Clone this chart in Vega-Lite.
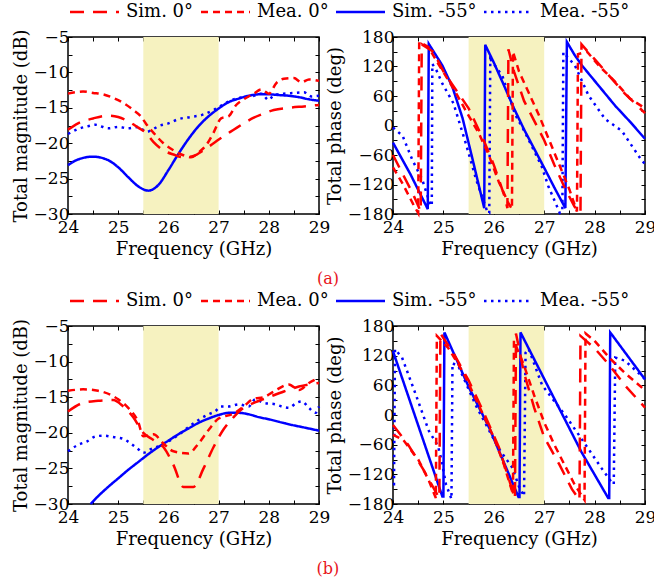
{
"$schema": "https://vega.github.io/schema/vega-lite/v6.json",
"background": "white",
"padding": {"left": 11, "right": 0, "top": 3, "bottom": 2},
"config": {
 "font": "DejaVu Serif",
 "view": {"stroke": "#000", "strokeWidth": 1.5},
 "axis": {"domain": false, "grid": false, "ticks": true, "tickColor": "#000", "tickSize": -4, "tickWidth": 1, "labelFontSize": 17, "labelColor": "#000", "labelFont": "DejaVu Serif", "titleFont": "DejaVu Serif", "titleFontSize": 18, "titleFontWeight": "normal", "titleColor": "#000", "labelPadding": 3, "titlePadding": 3, "labelFlush": false, "labelOverlap": false},
 "legend": {"orient": "top", "direction": "horizontal", "title": null, "symbolType": "M-1,0H6", "symbolSize": 196, "symbolStrokeWidth": 2.5, "labelFontSize": 18, "labelFont": "DejaVu Serif", "labelColor": "#000", "columnPadding": 2, "labelOffset": 40, "offset": 6, "padding": 0},
 "title": {"font": "DejaVu Serif"},
 "line": {"strokeWidth": 2.5, "clip": true}
},
"datasets": {
"ma": [
{"f":24,"v":-23.1,"s":"Sim. -55°"},{"f":24.2,"v":-22.3,"s":"Sim. -55°"},{"f":24.5,"v":-21.9,"s":"Sim. -55°"},{"f":24.8,"v":-22.4,"s":"Sim. -55°"},{"f":25,"v":-23.4,"s":"Sim. -55°"},{"f":25.2,"v":-24.8,"s":"Sim. -55°"},{"f":25.4,"v":-26.1,"s":"Sim. -55°"},{"f":25.6,"v":-26.7,"s":"Sim. -55°"},{"f":25.8,"v":-25.9,"s":"Sim. -55°"},{"f":26,"v":-23.8,"s":"Sim. -55°"},{"f":26.2,"v":-21.5,"s":"Sim. -55°"},{"f":26.4,"v":-19.4,"s":"Sim. -55°"},{"f":26.6,"v":-17.6,"s":"Sim. -55°"},{"f":26.8,"v":-16.2,"s":"Sim. -55°"},{"f":27,"v":-15.1,"s":"Sim. -55°"},{"f":27.2,"v":-14.2,"s":"Sim. -55°"},{"f":27.4,"v":-13.7,"s":"Sim. -55°"},{"f":27.6,"v":-13.3,"s":"Sim. -55°"},{"f":27.8,"v":-13.1,"s":"Sim. -55°"},{"f":28,"v":-13.1,"s":"Sim. -55°"},{"f":28.2,"v":-13.2,"s":"Sim. -55°"},{"f":28.4,"v":-13.3,"s":"Sim. -55°"},{"f":28.6,"v":-13.5,"s":"Sim. -55°"},{"f":28.8,"v":-13.8,"s":"Sim. -55°"},{"f":29,"v":-14,"s":"Sim. -55°"},
{"f":24,"v":-18.7,"s":"Mea. -55°"},{"f":24.2,"v":-18.0,"s":"Mea. -55°"},{"f":24.4,"v":-17.6,"s":"Mea. -55°"},{"f":24.55,"v":-17.4,"s":"Mea. -55°"},{"f":24.8,"v":-17.9,"s":"Mea. -55°"},{"f":25,"v":-17.7,"s":"Mea. -55°"},{"f":25.2,"v":-17.9,"s":"Mea. -55°"},{"f":25.4,"v":-17.7,"s":"Mea. -55°"},{"f":25.57,"v":-18.4,"s":"Mea. -55°"},{"f":25.65,"v":-18.2,"s":"Mea. -55°"},{"f":25.8,"v":-17.6,"s":"Mea. -55°"},{"f":26,"v":-17.2,"s":"Mea. -55°"},{"f":26.2,"v":-16.6,"s":"Mea. -55°"},{"f":26.45,"v":-16.3,"s":"Mea. -55°"},{"f":26.67,"v":-16.0,"s":"Mea. -55°"},{"f":26.9,"v":-15.3,"s":"Mea. -55°"},{"f":27.1,"v":-14.5,"s":"Mea. -55°"},{"f":27.3,"v":-13.8,"s":"Mea. -55°"},{"f":27.5,"v":-13.5,"s":"Mea. -55°"},{"f":27.7,"v":-13.3,"s":"Mea. -55°"},{"f":27.85,"v":-13.0,"s":"Mea. -55°"},{"f":28,"v":-13.9,"s":"Mea. -55°"},{"f":28.1,"v":-13.2,"s":"Mea. -55°"},{"f":28.3,"v":-13.0,"s":"Mea. -55°"},{"f":28.5,"v":-12.9,"s":"Mea. -55°"},{"f":28.7,"v":-12.8,"s":"Mea. -55°"},{"f":28.85,"v":-13.4,"s":"Mea. -55°"},{"f":29,"v":-13.3,"s":"Mea. -55°"},
{"f":24,"v":-18.1,"s":"Sim. 0°"},{"f":24.2,"v":-17.2,"s":"Sim. 0°"},{"f":24.5,"v":-16.5,"s":"Sim. 0°"},{"f":24.8,"v":-16.1,"s":"Sim. 0°"},{"f":25,"v":-16.3,"s":"Sim. 0°"},{"f":25.2,"v":-16.9,"s":"Sim. 0°"},{"f":25.4,"v":-17.8,"s":"Sim. 0°"},{"f":25.55,"v":-18.5,"s":"Sim. 0°"},{"f":25.7,"v":-19.8,"s":"Sim. 0°"},{"f":25.9,"v":-21.0,"s":"Sim. 0°"},{"f":26.1,"v":-21.6,"s":"Sim. 0°"},{"f":26.3,"v":-22.0,"s":"Sim. 0°"},{"f":26.5,"v":-21.8,"s":"Sim. 0°"},{"f":26.7,"v":-21.0,"s":"Sim. 0°"},{"f":26.9,"v":-20.0,"s":"Sim. 0°"},{"f":27.1,"v":-19.0,"s":"Sim. 0°"},{"f":27.3,"v":-18.1,"s":"Sim. 0°"},{"f":27.5,"v":-17.2,"s":"Sim. 0°"},{"f":27.7,"v":-16.4,"s":"Sim. 0°"},{"f":27.9,"v":-15.8,"s":"Sim. 0°"},{"f":28.1,"v":-15.3,"s":"Sim. 0°"},{"f":28.4,"v":-15.0,"s":"Sim. 0°"},{"f":28.7,"v":-14.8,"s":"Sim. 0°"},{"f":29,"v":-14.6,"s":"Sim. 0°"},
{"f":24,"v":-13.0,"s":"Mea. 0°"},{"f":24.15,"v":-12.8,"s":"Mea. 0°"},{"f":24.3,"v":-12.7,"s":"Mea. 0°"},{"f":24.5,"v":-12.9,"s":"Mea. 0°"},{"f":24.7,"v":-13.1,"s":"Mea. 0°"},{"f":24.9,"v":-13.6,"s":"Mea. 0°"},{"f":25.1,"v":-14.3,"s":"Mea. 0°"},{"f":25.3,"v":-15.3,"s":"Mea. 0°"},{"f":25.45,"v":-16.2,"s":"Mea. 0°"},{"f":25.55,"v":-17.2,"s":"Mea. 0°"},{"f":25.7,"v":-18.5,"s":"Mea. 0°"},{"f":25.9,"v":-20.0,"s":"Mea. 0°"},{"f":26.1,"v":-21.0,"s":"Mea. 0°"},{"f":26.3,"v":-21.7,"s":"Mea. 0°"},{"f":26.45,"v":-22.0,"s":"Mea. 0°"},{"f":26.6,"v":-21.3,"s":"Mea. 0°"},{"f":26.75,"v":-20.3,"s":"Mea. 0°"},{"f":26.9,"v":-18.5,"s":"Mea. 0°"},{"f":27.05,"v":-16.5,"s":"Mea. 0°"},{"f":27.2,"v":-16.2,"s":"Mea. 0°"},{"f":27.35,"v":-14.6,"s":"Mea. 0°"},{"f":27.5,"v":-13.8,"s":"Mea. 0°"},{"f":27.7,"v":-13.0,"s":"Mea. 0°"},{"f":27.85,"v":-12.4,"s":"Mea. 0°"},{"f":28,"v":-13.0,"s":"Mea. 0°"},{"f":28.15,"v":-11.5,"s":"Mea. 0°"},{"f":28.3,"v":-10.9,"s":"Mea. 0°"},{"f":28.5,"v":-10.8,"s":"Mea. 0°"},{"f":28.65,"v":-11.4,"s":"Mea. 0°"},{"f":28.8,"v":-11.0,"s":"Mea. 0°"},{"f":29,"v":-11.2,"s":"Mea. 0°"}
],
"pa": [
{"f":24,"v":-35,"s":"Sim. -55°"},{"f":24.35,"v":-100,"s":"Sim. -55°"},{"f":24.69,"v":-170,"s":"Sim. -55°"},{"f":24.71,"v":166,"s":"Sim. -55°"},{"f":24.98,"v":122,"s":"Sim. -55°"},{"f":25.18,"v":78,"s":"Sim. -55°"},{"f":25.38,"v":15,"s":"Sim. -55°"},{"f":25.57,"v":-65,"s":"Sim. -55°"},{"f":25.81,"v":-168,"s":"Sim. -55°"},{"f":25.83,"v":164,"s":"Sim. -55°"},{"f":26,"v":128,"s":"Sim. -55°"},{"f":26.2,"v":82,"s":"Sim. -55°"},{"f":26.4,"v":35,"s":"Sim. -55°"},{"f":26.6,"v":-8,"s":"Sim. -55°"},{"f":26.8,"v":-47,"s":"Sim. -55°"},{"f":27,"v":-86,"s":"Sim. -55°"},{"f":27.2,"v":-126,"s":"Sim. -55°"},{"f":27.42,"v":-168,"s":"Sim. -55°"},{"f":27.45,"v":170,"s":"Sim. -55°"},{"f":27.6,"v":144,"s":"Sim. -55°"},{"f":27.75,"v":122,"s":"Sim. -55°"},{"f":28.08,"v":81,"s":"Sim. -55°"},{"f":28.41,"v":40,"s":"Sim. -55°"},{"f":28.7,"v":8,"s":"Sim. -55°"},{"f":29,"v":-27,"s":"Sim. -55°"},
{"f":24,"v":-4,"s":"Mea. -55°"},{"f":24.19,"v":-21,"s":"Mea. -55°"},{"f":24.38,"v":-69,"s":"Mea. -55°"},{"f":24.58,"v":-110,"s":"Mea. -55°"},{"f":24.75,"v":-164,"s":"Mea. -55°"},{"f":24.77,"v":-160,"s":"Mea. -55°"},{"f":24.78,"v":125,"s":"Mea. -55°"},{"f":24.85,"v":115,"s":"Mea. -55°"},{"f":24.98,"v":85,"s":"Mea. -55°"},{"f":25.2,"v":45,"s":"Mea. -55°"},{"f":25.44,"v":-35,"s":"Mea. -55°"},{"f":25.65,"v":-110,"s":"Mea. -55°"},{"f":25.88,"v":-178,"s":"Mea. -55°"},{"f":25.91,"v":-178,"s":"Mea. -55°"},{"f":25.93,"v":135,"s":"Mea. -55°"},{"f":26.17,"v":101,"s":"Mea. -55°"},{"f":26.42,"v":23,"s":"Mea. -55°"},{"f":26.62,"v":-14,"s":"Mea. -55°"},{"f":26.95,"v":-83,"s":"Mea. -55°"},{"f":27.08,"v":-123,"s":"Mea. -55°"},{"f":27.31,"v":-178,"s":"Mea. -55°"},{"f":27.36,"v":-175,"s":"Mea. -55°"},{"f":27.38,"v":149,"s":"Mea. -55°"},{"f":27.61,"v":122,"s":"Mea. -55°"},{"f":27.88,"v":61,"s":"Mea. -55°"},{"f":28.21,"v":13,"s":"Mea. -55°"},{"f":28.54,"v":-11,"s":"Mea. -55°"},{"f":28.94,"v":-72,"s":"Mea. -55°"},{"f":29,"v":-78,"s":"Mea. -55°"},
{"f":24,"v":-60,"s":"Sim. 0°"},{"f":24.2,"v":-100,"s":"Sim. 0°"},{"f":24.4,"v":-140,"s":"Sim. 0°"},{"f":24.55,"v":-175,"s":"Sim. 0°"},{"f":24.57,"v":165,"s":"Sim. 0°"},{"f":24.8,"v":150,"s":"Sim. 0°"},{"f":25,"v":110,"s":"Sim. 0°"},{"f":25.2,"v":80,"s":"Sim. 0°"},{"f":25.5,"v":35,"s":"Sim. 0°"},{"f":25.8,"v":-30,"s":"Sim. 0°"},{"f":26,"v":-80,"s":"Sim. 0°"},{"f":26.2,"v":-140,"s":"Sim. 0°"},{"f":26.27,"v":-168,"s":"Sim. 0°"},{"f":26.29,"v":155,"s":"Sim. 0°"},{"f":26.4,"v":110,"s":"Sim. 0°"},{"f":26.6,"v":50,"s":"Sim. 0°"},{"f":26.8,"v":10,"s":"Sim. 0°"},{"f":27,"v":-30,"s":"Sim. 0°"},{"f":27.2,"v":-80,"s":"Sim. 0°"},{"f":27.4,"v":-125,"s":"Sim. 0°"},{"f":27.6,"v":-165,"s":"Sim. 0°"},{"f":27.72,"v":-178,"s":"Sim. 0°"},{"f":27.74,"v":165,"s":"Sim. 0°"},{"f":28,"v":135,"s":"Sim. 0°"},{"f":28.3,"v":100,"s":"Sim. 0°"},{"f":28.6,"v":65,"s":"Sim. 0°"},{"f":29,"v":25,"s":"Sim. 0°"},
{"f":24,"v":-85,"s":"Mea. 0°"},{"f":24.2,"v":-120,"s":"Mea. 0°"},{"f":24.4,"v":-160,"s":"Mea. 0°"},{"f":24.5,"v":-178,"s":"Mea. 0°"},{"f":24.52,"v":170,"s":"Mea. 0°"},{"f":24.7,"v":160,"s":"Mea. 0°"},{"f":24.9,"v":125,"s":"Mea. 0°"},{"f":25.2,"v":75,"s":"Mea. 0°"},{"f":25.5,"v":20,"s":"Mea. 0°"},{"f":25.7,"v":-15,"s":"Mea. 0°"},{"f":25.9,"v":-60,"s":"Mea. 0°"},{"f":26.1,"v":-115,"s":"Mea. 0°"},{"f":26.3,"v":-160,"s":"Mea. 0°"},{"f":26.36,"v":-170,"s":"Mea. 0°"},{"f":26.38,"v":150,"s":"Mea. 0°"},{"f":26.5,"v":110,"s":"Mea. 0°"},{"f":26.7,"v":65,"s":"Mea. 0°"},{"f":26.9,"v":20,"s":"Mea. 0°"},{"f":27.1,"v":-30,"s":"Mea. 0°"},{"f":27.3,"v":-80,"s":"Mea. 0°"},{"f":27.5,"v":-130,"s":"Mea. 0°"},{"f":27.65,"v":-175,"s":"Mea. 0°"},{"f":27.67,"v":145,"s":"Mea. 0°"},{"f":27.85,"v":150,"s":"Mea. 0°"},{"f":28.1,"v":120,"s":"Mea. 0°"},{"f":28.4,"v":90,"s":"Mea. 0°"},{"f":28.7,"v":55,"s":"Mea. 0°"},{"f":29,"v":35,"s":"Mea. 0°"}
],
"mb": [
{"f":24.45,"v":-30,"s":"Sim. -55°"},{"f":24.6,"v":-28.9,"s":"Sim. -55°"},{"f":24.8,"v":-27.6,"s":"Sim. -55°"},{"f":25,"v":-26.4,"s":"Sim. -55°"},{"f":25.2,"v":-25.2,"s":"Sim. -55°"},{"f":25.4,"v":-24.1,"s":"Sim. -55°"},{"f":25.6,"v":-23.0,"s":"Sim. -55°"},{"f":25.8,"v":-22.0,"s":"Sim. -55°"},{"f":26,"v":-21.1,"s":"Sim. -55°"},{"f":26.2,"v":-20.2,"s":"Sim. -55°"},{"f":26.4,"v":-19.4,"s":"Sim. -55°"},{"f":26.6,"v":-18.6,"s":"Sim. -55°"},{"f":26.8,"v":-18.0,"s":"Sim. -55°"},{"f":27,"v":-17.5,"s":"Sim. -55°"},{"f":27.2,"v":-17.2,"s":"Sim. -55°"},{"f":27.4,"v":-17.2,"s":"Sim. -55°"},{"f":27.6,"v":-17.4,"s":"Sim. -55°"},{"f":27.8,"v":-17.8,"s":"Sim. -55°"},{"f":28,"v":-18.1,"s":"Sim. -55°"},{"f":28.4,"v":-18.8,"s":"Sim. -55°"},{"f":28.8,"v":-19.4,"s":"Sim. -55°"},{"f":29,"v":-19.7,"s":"Sim. -55°"},
{"f":24,"v":-22.6,"s":"Mea. -55°"},{"f":24.2,"v":-21.7,"s":"Mea. -55°"},{"f":24.38,"v":-21.2,"s":"Mea. -55°"},{"f":24.55,"v":-20.5,"s":"Mea. -55°"},{"f":24.71,"v":-20.4,"s":"Mea. -55°"},{"f":24.9,"v":-20.6,"s":"Mea. -55°"},{"f":25.08,"v":-20.8,"s":"Mea. -55°"},{"f":25.25,"v":-21.5,"s":"Mea. -55°"},{"f":25.4,"v":-22.3,"s":"Mea. -55°"},{"f":25.5,"v":-22.8,"s":"Mea. -55°"},{"f":25.65,"v":-22.3,"s":"Mea. -55°"},{"f":25.87,"v":-21.7,"s":"Mea. -55°"},{"f":26.05,"v":-21.0,"s":"Mea. -55°"},{"f":26.2,"v":-20.3,"s":"Mea. -55°"},{"f":26.4,"v":-19.2,"s":"Mea. -55°"},{"f":26.6,"v":-18.2,"s":"Mea. -55°"},{"f":26.8,"v":-17.4,"s":"Mea. -55°"},{"f":26.93,"v":-17.0,"s":"Mea. -55°"},{"f":27.05,"v":-16.3,"s":"Mea. -55°"},{"f":27.2,"v":-16.3,"s":"Mea. -55°"},{"f":27.4,"v":-16.0,"s":"Mea. -55°"},{"f":27.6,"v":-16.3,"s":"Mea. -55°"},{"f":27.73,"v":-15.3,"s":"Mea. -55°"},{"f":27.9,"v":-15.8,"s":"Mea. -55°"},{"f":28.13,"v":-16.0,"s":"Mea. -55°"},{"f":28.3,"v":-16.4,"s":"Mea. -55°"},{"f":28.4,"v":-16.5,"s":"Mea. -55°"},{"f":28.55,"v":-15.8,"s":"Mea. -55°"},{"f":28.66,"v":-15.6,"s":"Mea. -55°"},{"f":28.8,"v":-16.5,"s":"Mea. -55°"},{"f":28.93,"v":-17.2,"s":"Mea. -55°"},{"f":29,"v":-16.3,"s":"Mea. -55°"},
{"f":24,"v":-17.0,"s":"Sim. 0°"},{"f":24.3,"v":-15.8,"s":"Sim. 0°"},{"f":24.6,"v":-15.5,"s":"Sim. 0°"},{"f":24.9,"v":-15.4,"s":"Sim. 0°"},{"f":25.1,"v":-16.3,"s":"Sim. 0°"},{"f":25.3,"v":-17.8,"s":"Sim. 0°"},{"f":25.5,"v":-20.0,"s":"Sim. 0°"},{"f":25.7,"v":-21.0,"s":"Sim. 0°"},{"f":25.9,"v":-22.0,"s":"Sim. 0°"},{"f":26.1,"v":-24.5,"s":"Sim. 0°"},{"f":26.3,"v":-27.6,"s":"Sim. 0°"},{"f":26.5,"v":-27.6,"s":"Sim. 0°"},{"f":26.7,"v":-25.0,"s":"Sim. 0°"},{"f":26.9,"v":-22.0,"s":"Sim. 0°"},{"f":27.1,"v":-19.5,"s":"Sim. 0°"},{"f":27.3,"v":-17.8,"s":"Sim. 0°"},{"f":27.5,"v":-16.5,"s":"Sim. 0°"},{"f":27.7,"v":-15.8,"s":"Sim. 0°"},{"f":28,"v":-15.0,"s":"Sim. 0°"},{"f":28.3,"v":-14.2,"s":"Sim. 0°"},{"f":28.6,"v":-13.5,"s":"Sim. 0°"},{"f":29,"v":-13.0,"s":"Sim. 0°"},
{"f":24,"v":-14.1,"s":"Mea. 0°"},{"f":24.3,"v":-13.9,"s":"Mea. 0°"},{"f":24.6,"v":-14.1,"s":"Mea. 0°"},{"f":25,"v":-15.3,"s":"Mea. 0°"},{"f":25.2,"v":-16.5,"s":"Mea. 0°"},{"f":25.4,"v":-18.5,"s":"Mea. 0°"},{"f":25.5,"v":-20.5,"s":"Mea. 0°"},{"f":25.7,"v":-20.2,"s":"Mea. 0°"},{"f":25.9,"v":-21.5,"s":"Mea. 0°"},{"f":26.1,"v":-22.6,"s":"Mea. 0°"},{"f":26.4,"v":-22.9,"s":"Mea. 0°"},{"f":26.6,"v":-21.5,"s":"Mea. 0°"},{"f":26.8,"v":-19.6,"s":"Mea. 0°"},{"f":27,"v":-18.0,"s":"Mea. 0°"},{"f":27.3,"v":-17.3,"s":"Mea. 0°"},{"f":27.5,"v":-16.3,"s":"Mea. 0°"},{"f":27.7,"v":-15.2,"s":"Mea. 0°"},{"f":27.9,"v":-15.0,"s":"Mea. 0°"},{"f":28.1,"v":-14.2,"s":"Mea. 0°"},{"f":28.4,"v":-13.2,"s":"Mea. 0°"},{"f":28.6,"v":-14.0,"s":"Mea. 0°"},{"f":28.8,"v":-13.0,"s":"Mea. 0°"},{"f":29,"v":-12.3,"s":"Mea. 0°"}
],
"pb": [
{"f":24,"v":129,"s":"Sim. -55°"},{"f":24.98,"v":-165,"s":"Sim. -55°"},{"f":25,"v":-165,"s":"Sim. -55°"},{"f":25.02,"v":167,"s":"Sim. -55°"},{"f":25.51,"v":55,"s":"Sim. -55°"},{"f":25.91,"v":-26,"s":"Sim. -55°"},{"f":26.49,"v":-166,"s":"Sim. -55°"},{"f":26.51,"v":-166,"s":"Sim. -55°"},{"f":26.53,"v":167,"s":"Sim. -55°"},{"f":27.08,"v":57,"s":"Sim. -55°"},{"f":27.74,"v":-75,"s":"Sim. -55°"},{"f":28.27,"v":-168,"s":"Sim. -55°"},{"f":28.29,"v":-168,"s":"Sim. -55°"},{"f":28.31,"v":167,"s":"Sim. -55°"},{"f":29,"v":72,"s":"Sim. -55°"},
{"f":24,"v":-140,"s":"Mea. -55°"},{"f":24.02,"v":-140,"s":"Mea. -55°"},{"f":24.04,"v":133,"s":"Mea. -55°"},{"f":24.18,"v":116,"s":"Mea. -55°"},{"f":24.45,"v":42,"s":"Mea. -55°"},{"f":24.71,"v":-32,"s":"Mea. -55°"},{"f":24.89,"v":-62,"s":"Mea. -55°"},{"f":24.96,"v":-90,"s":"Mea. -55°"},{"f":25.05,"v":-140,"s":"Mea. -55°"},{"f":25.16,"v":-170,"s":"Mea. -55°"},{"f":25.18,"v":105,"s":"Mea. -55°"},{"f":25.3,"v":98,"s":"Mea. -55°"},{"f":25.64,"v":20,"s":"Mea. -55°"},{"f":26.1,"v":-68,"s":"Mea. -55°"},{"f":26.37,"v":-107,"s":"Mea. -55°"},{"f":26.5,"v":-145,"s":"Mea. -55°"},{"f":26.6,"v":-164,"s":"Mea. -55°"},{"f":26.63,"v":126,"s":"Mea. -55°"},{"f":26.69,"v":134,"s":"Mea. -55°"},{"f":26.96,"v":60,"s":"Mea. -55°"},{"f":27.42,"v":-1,"s":"Mea. -55°"},{"f":27.74,"v":-48,"s":"Mea. -55°"},{"f":28.14,"v":-108,"s":"Mea. -55°"},{"f":28.33,"v":-135,"s":"Mea. -55°"},{"f":28.38,"v":-140,"s":"Mea. -55°"},{"f":28.41,"v":116,"s":"Mea. -55°"},{"f":28.6,"v":110,"s":"Mea. -55°"},{"f":29,"v":73,"s":"Mea. -55°"},
{"f":24,"v":-20,"s":"Sim. 0°"},{"f":24.3,"v":-60,"s":"Sim. 0°"},{"f":24.6,"v":-110,"s":"Sim. 0°"},{"f":24.9,"v":-165,"s":"Sim. 0°"},{"f":24.92,"v":-168,"s":"Sim. 0°"},{"f":24.94,"v":165,"s":"Sim. 0°"},{"f":25.2,"v":125,"s":"Sim. 0°"},{"f":25.5,"v":70,"s":"Sim. 0°"},{"f":25.8,"v":5,"s":"Sim. 0°"},{"f":26.1,"v":-65,"s":"Sim. 0°"},{"f":26.3,"v":-130,"s":"Sim. 0°"},{"f":26.42,"v":-170,"s":"Sim. 0°"},{"f":26.44,"v":165,"s":"Sim. 0°"},{"f":26.6,"v":85,"s":"Sim. 0°"},{"f":26.8,"v":15,"s":"Sim. 0°"},{"f":27,"v":-45,"s":"Sim. 0°"},{"f":27.3,"v":-100,"s":"Sim. 0°"},{"f":27.55,"v":-150,"s":"Sim. 0°"},{"f":27.7,"v":-172,"s":"Sim. 0°"},{"f":27.72,"v":160,"s":"Sim. 0°"},{"f":28,"v":135,"s":"Sim. 0°"},{"f":28.3,"v":100,"s":"Sim. 0°"},{"f":28.6,"v":60,"s":"Sim. 0°"},{"f":29,"v":15,"s":"Sim. 0°"},
{"f":24,"v":-40,"s":"Mea. 0°"},{"f":24.2,"v":-50,"s":"Mea. 0°"},{"f":24.5,"v":-90,"s":"Mea. 0°"},{"f":24.7,"v":-130,"s":"Mea. 0°"},{"f":24.85,"v":-168,"s":"Mea. 0°"},{"f":24.87,"v":160,"s":"Mea. 0°"},{"f":25.1,"v":135,"s":"Mea. 0°"},{"f":25.4,"v":85,"s":"Mea. 0°"},{"f":25.7,"v":20,"s":"Mea. 0°"},{"f":26,"v":-45,"s":"Mea. 0°"},{"f":26.2,"v":-100,"s":"Mea. 0°"},{"f":26.35,"v":-150,"s":"Mea. 0°"},{"f":26.38,"v":-160,"s":"Mea. 0°"},{"f":26.4,"v":150,"s":"Mea. 0°"},{"f":26.6,"v":100,"s":"Mea. 0°"},{"f":26.8,"v":40,"s":"Mea. 0°"},{"f":27,"v":-15,"s":"Mea. 0°"},{"f":27.2,"v":-60,"s":"Mea. 0°"},{"f":27.4,"v":-100,"s":"Mea. 0°"},{"f":27.6,"v":-140,"s":"Mea. 0°"},{"f":27.8,"v":-172,"s":"Mea. 0°"},{"f":27.82,"v":165,"s":"Mea. 0°"},{"f":28,"v":150,"s":"Mea. 0°"},{"f":28.3,"v":115,"s":"Mea. 0°"},{"f":28.6,"v":85,"s":"Mea. 0°"},{"f":29,"v":50,"s":"Mea. 0°"}
]
},
"resolve": {"scale": {"color": "independent", "strokeDash": "independent"}},
"spacing": 5,
"vconcat": [
{
 "title": {"text": "(a)", "orient": "bottom", "anchor": "middle", "color": "#e8141c", "fontSize": 16, "fontWeight": "normal", "offset": 12, "dx": -6},
 "bounds": "flush",
 "spacing": 74,
 "hconcat": [
  {"width": 251, "height": 177,
   "layer": [
    {"data": {"values": [{"a": 25.5, "b": 27}]}, "mark": {"type": "rect", "color": "#f6f2c0"},
     "encoding": {
      "x": {"field": "a", "type": "quantitative", "scale": {"domain": [24, 29], "nice": false}, "axis": {"orient": "top", "labels": false, "title": null, "values": [24,24.5,25,25.5,26,26.5,27,27.5,28,28.5,29]}},
      "x2": {"field": "b"},
      "y": {"datum": -5, "type": "quantitative", "scale": {"domain": [-30, -5], "nice": false}, "axis": {"orient": "right", "labels": false, "title": null, "values": [-30,-27.5,-25,-22.5,-20,-17.5,-15,-12.5,-10,-7.5,-5]}},
      "y2": {"datum": -30}}},
    {"data": {"name": "ma"}, "mark": {"type": "line", "interpolate": "monotone"},
     "encoding": {
      "x": {"field": "f", "type": "quantitative", "axis": {"title": "Frequency (GHz)", "labelPadding": 9, "titlePadding": 5, "values": [24,24.5,25,25.5,26,26.5,27,27.5,28,28.5,29], "labelExpr": "datum.value % 1 ? '' : format(datum.value, 'd')"}},
      "y": {"field": "v", "type": "quantitative", "axis": {"title": "Total magnitude (dB)", "values": [-30,-27.5,-25,-22.5,-20,-17.5,-15,-12.5,-10,-7.5,-5], "labelExpr": "datum.value % 5 ? '' : format(datum.value, 'd')"}},
      "color": {"field": "s", "type": "nominal", "scale": {"domain": ["Sim. 0°","Mea. 0°","Sim. -55°","Mea. -55°"], "range": ["#ff0000","#ff0000","#0000ff","#0000ff"]}},
      "strokeDash": {"field": "s", "type": "nominal", "scale": {"domain": ["Sim. 0°","Mea. 0°","Sim. -55°","Mea. -55°"], "range": [[14,9],[7,5],[1,0],[2.5,4.5]]}}}}
   ],
   "resolve": {"axis": {"x": "independent", "y": "independent"}}
  },
  {"width": 252, "height": 177,
   "layer": [
    {"data": {"values": [{"a": 25.5, "b": 27}]}, "mark": {"type": "rect", "color": "#f6f2c0"},
     "encoding": {
      "x": {"field": "a", "type": "quantitative", "scale": {"domain": [24, 29], "nice": false}, "axis": {"orient": "top", "labels": false, "title": null, "values": [24,24.5,25,25.5,26,26.5,27,27.5,28,28.5,29]}},
      "x2": {"field": "b"},
      "y": {"datum": 180, "type": "quantitative", "scale": {"domain": [-180, 180], "nice": false}, "axis": {"orient": "right", "labels": false, "title": null, "values": [-180,-150,-120,-90,-60,-30,0,30,60,90,120,150,180]}},
      "y2": {"datum": -180}}},
    {"data": {"name": "pa"}, "mark": {"type": "line"},
     "encoding": {
      "x": {"field": "f", "type": "quantitative", "axis": {"title": "Frequency (GHz)", "labelPadding": 9, "titlePadding": 5, "values": [24,24.5,25,25.5,26,26.5,27,27.5,28,28.5,29], "labelExpr": "datum.value % 1 ? '' : format(datum.value, 'd')"}},
      "y": {"field": "v", "type": "quantitative", "axis": {"title": "Total phase (deg)", "values": [-180,-150,-120,-90,-60,-30,0,30,60,90,120,150,180], "labelExpr": "datum.value % 60 ? '' : format(datum.value, 'd')"}},
      "color": {"field": "s", "type": "nominal", "scale": {"domain": ["Sim. 0°","Mea. 0°","Sim. -55°","Mea. -55°"], "range": ["#ff0000","#ff0000","#0000ff","#0000ff"]}},
      "strokeDash": {"field": "s", "type": "nominal", "scale": {"domain": ["Sim. 0°","Mea. 0°","Sim. -55°","Mea. -55°"], "range": [[14,9],[7,5],[1,0],[2.5,4.5]]}}}}
   ],
   "resolve": {"axis": {"x": "independent", "y": "independent"}}
  }
 ]
},
{
 "title": {"text": "(b)", "orient": "bottom", "anchor": "middle", "color": "#e8141c", "fontSize": 16, "fontWeight": "normal", "offset": 12, "dx": -6},
 "bounds": "flush",
 "spacing": 74,
 "hconcat": [
  {"width": 251, "height": 178,
   "layer": [
    {"data": {"values": [{"a": 25.5, "b": 27}]}, "mark": {"type": "rect", "color": "#f6f2c0"},
     "encoding": {
      "x": {"field": "a", "type": "quantitative", "scale": {"domain": [24, 29], "nice": false}, "axis": {"orient": "top", "labels": false, "title": null, "values": [24,24.5,25,25.5,26,26.5,27,27.5,28,28.5,29]}},
      "x2": {"field": "b"},
      "y": {"datum": -5, "type": "quantitative", "scale": {"domain": [-30, -5], "nice": false}, "axis": {"orient": "right", "labels": false, "title": null, "values": [-30,-27.5,-25,-22.5,-20,-17.5,-15,-12.5,-10,-7.5,-5]}},
      "y2": {"datum": -30}}},
    {"data": {"name": "mb"}, "mark": {"type": "line", "interpolate": "monotone"},
     "encoding": {
      "x": {"field": "f", "type": "quantitative", "axis": {"title": "Frequency (GHz)", "labelPadding": 9, "titlePadding": 5, "values": [24,24.5,25,25.5,26,26.5,27,27.5,28,28.5,29], "labelExpr": "datum.value % 1 ? '' : format(datum.value, 'd')"}},
      "y": {"field": "v", "type": "quantitative", "axis": {"title": "Total magnitude (dB)", "values": [-30,-27.5,-25,-22.5,-20,-17.5,-15,-12.5,-10,-7.5,-5], "labelExpr": "datum.value % 5 ? '' : format(datum.value, 'd')"}},
      "color": {"field": "s", "type": "nominal", "scale": {"domain": ["Sim. 0°","Mea. 0°","Sim. -55°","Mea. -55°"], "range": ["#ff0000","#ff0000","#0000ff","#0000ff"]}},
      "strokeDash": {"field": "s", "type": "nominal", "scale": {"domain": ["Sim. 0°","Mea. 0°","Sim. -55°","Mea. -55°"], "range": [[14,9],[7,5],[1,0],[2.5,4.5]]}}}}
   ],
   "resolve": {"axis": {"x": "independent", "y": "independent"}}
  },
  {"width": 252, "height": 178,
   "layer": [
    {"data": {"values": [{"a": 25.5, "b": 27}]}, "mark": {"type": "rect", "color": "#f6f2c0"},
     "encoding": {
      "x": {"field": "a", "type": "quantitative", "scale": {"domain": [24, 29], "nice": false}, "axis": {"orient": "top", "labels": false, "title": null, "values": [24,24.5,25,25.5,26,26.5,27,27.5,28,28.5,29]}},
      "x2": {"field": "b"},
      "y": {"datum": 180, "type": "quantitative", "scale": {"domain": [-180, 180], "nice": false}, "axis": {"orient": "right", "labels": false, "title": null, "values": [-180,-150,-120,-90,-60,-30,0,30,60,90,120,150,180]}},
      "y2": {"datum": -180}}},
    {"data": {"name": "pb"}, "mark": {"type": "line"},
     "encoding": {
      "x": {"field": "f", "type": "quantitative", "axis": {"title": "Frequency (GHz)", "labelPadding": 9, "titlePadding": 5, "values": [24,24.5,25,25.5,26,26.5,27,27.5,28,28.5,29], "labelExpr": "datum.value % 1 ? '' : format(datum.value, 'd')"}},
      "y": {"field": "v", "type": "quantitative", "axis": {"title": "Total phase (deg)", "values": [-180,-150,-120,-90,-60,-30,0,30,60,90,120,150,180], "labelExpr": "datum.value % 60 ? '' : format(datum.value, 'd')"}},
      "color": {"field": "s", "type": "nominal", "scale": {"domain": ["Sim. 0°","Mea. 0°","Sim. -55°","Mea. -55°"], "range": ["#ff0000","#ff0000","#0000ff","#0000ff"]}},
      "strokeDash": {"field": "s", "type": "nominal", "scale": {"domain": ["Sim. 0°","Mea. 0°","Sim. -55°","Mea. -55°"], "range": [[14,9],[7,5],[1,0],[2.5,4.5]]}}}}
   ],
   "resolve": {"axis": {"x": "independent", "y": "independent"}}
  }
 ]
}
]
}
